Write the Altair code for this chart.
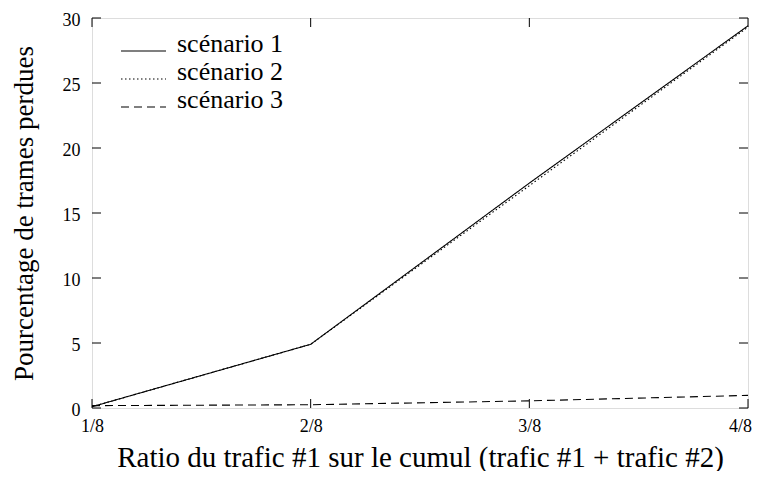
import altair as alt
import pandas as pd

# ---- data ----
x_ratio = [0.125, 0.25, 0.375, 0.5]
x_labels = ["1/8", "2/8", "3/8", "4/8"]
scenario_names = ["scénario 1", "scénario 2", "scénario 3"]
scenario1 = [0.1, 4.9, 17.3, 29.4]
scenario2 = [0.1, 4.9, 17.1, 29.3]
scenario3 = [0.18, 0.25, 0.55, 0.97]
y_ticks = [0, 5, 10, 15, 20, 25, 30]

dash_styles = [[1, 0], [1.5, 2.5], [8, 5]]

W, H = 656, 390
FONT = "'Liberation Serif', 'Times New Roman', serif"

rows = []
for name, series in zip(scenario_names, [scenario1, scenario2, scenario3]):
    for xv, yv in zip(x_ratio, series):
        rows.append({"ratio": xv, "pct": yv, "scenario": name})
df = pd.DataFrame(rows)

label_expr = " : ".join(
    f"datum.value == {v} ? '{lab}'" for v, lab in zip(x_ratio, x_labels)
) + " : ''"

xscale = alt.Scale(domain=[x_ratio[0], x_ratio[-1]], nice=False, zero=False)
yscale = alt.Scale(domain=[y_ticks[0], y_ticks[-1]], nice=False)

lines = alt.Chart(df).mark_line(color="black", strokeWidth=1.1).encode(
    x=alt.X("ratio:Q", scale=xscale,
            axis=alt.Axis(values=x_ratio, labelExpr=label_expr, labelFlush=False,
                          labelOffset={"condition": {"test": f"datum.value == {x_ratio[-1]}", "value": -8},
                                       "value": 0},
                          ticks=False, domain=False, grid=False,
                          labelPadding=9, labelFontSize=18, labelFont=FONT,
                          labelColor="black",
                          title="Ratio du trafic #1 sur le cumul (trafic #1 + trafic #2)",
                          titleFont=FONT, titleFontSize=29, titleFontWeight="normal",
                          titleColor="black", titlePadding=8)),
    y=alt.Y("pct:Q", scale=yscale,
            axis=alt.Axis(values=y_ticks, ticks=False, domain=False, grid=False,
                          labelPadding=12, labelFontSize=18, labelFont=FONT,
                          labelColor="black", labelOffset=2,
                          title="Pourcentage de trames perdues",
                          titleFont=FONT, titleFontSize=27, titleFontWeight="normal",
                          titleColor="black", titlePadding=24)),
    strokeDash=alt.StrokeDash("scenario:N",
                              scale=alt.Scale(domain=scenario_names, range=dash_styles),
                              legend=None),
    detail="scenario:N",
)

# inward ticks on all four sides (gnuplot style)
xt = pd.DataFrame({"ratio": x_ratio})
yt = pd.DataFrame({"pct": y_ticks})
TL = 9
xt_bottom = alt.Chart(xt).mark_rule(color="black", strokeWidth=1).encode(
    x=alt.X("ratio:Q", scale=xscale), y=alt.value(H), y2=alt.value(H - TL))
xt_top = alt.Chart(xt).mark_rule(color="black", strokeWidth=1).encode(
    x=alt.X("ratio:Q", scale=xscale), y=alt.value(0), y2=alt.value(TL))
yt_left = alt.Chart(yt).mark_rule(color="black", strokeWidth=1).encode(
    y=alt.Y("pct:Q", scale=yscale), x=alt.value(0), x2=alt.value(TL))
yt_right = alt.Chart(yt).mark_rule(color="black", strokeWidth=1).encode(
    y=alt.Y("pct:Q", scale=yscale), x=alt.value(W - TL), x2=alt.value(W))

# legend (gnuplot-like key, top left inside the frame)
legend_layers = []
for i, (name, dash) in enumerate(zip(scenario_names, dash_styles)):
    ldf = pd.DataFrame({"scenario": [name]})
    yy = 33 + i * 28
    legend_layers.append(
        alt.Chart(ldf).mark_rule(color="black", strokeWidth=1.1, strokeDash=dash).encode(
            x=alt.value(29), x2=alt.value(74), y=alt.value(yy))
    )
    legend_layers.append(
        alt.Chart(ldf).mark_text(align="left", baseline="alphabetic", font=FONT,
                                 fontSize=26, color="black").encode(
            text="scenario:N", x=alt.value(85), y=alt.value(yy + 1))
    )

chart = alt.layer(lines, xt_bottom, xt_top, yt_left, yt_right, *legend_layers).properties(
    width=W, height=H,
    autosize=alt.AutoSizeParams(type="none"),
    padding={"left": 84, "top": 10, "right": 4, "bottom": 63},
).configure_view(stroke="black", strokeWidth=1.6).configure(background="white")

chart.save("out.html", embed_options={"renderer": "svg", "actions": False})
